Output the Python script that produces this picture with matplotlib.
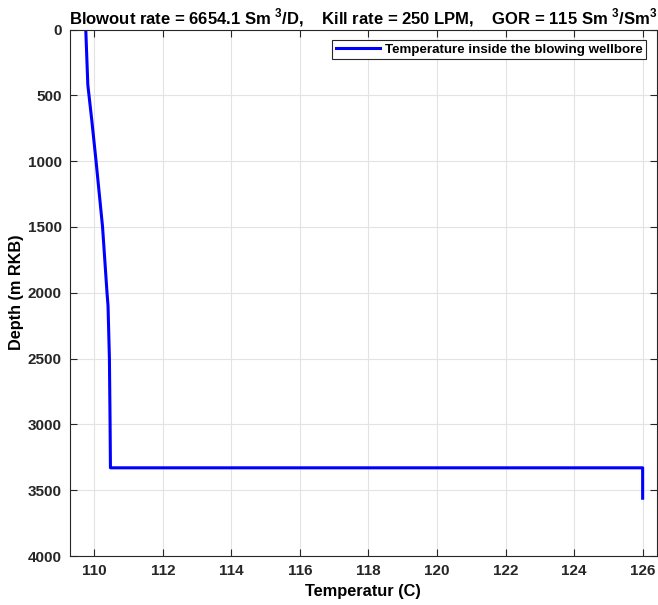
import matplotlib
matplotlib.use("Agg")
import matplotlib.pyplot as plt

plt.rcParams['font.family'] = ['Liberation Sans', 'DejaVu Sans']
plt.rcParams['mathtext.fontset'] = 'custom'
plt.rcParams['mathtext.rm'] = 'Liberation Sans:bold'
plt.rcParams['mathtext.bf'] = 'Liberation Sans:bold'

# Temperature profile inside the blowing wellbore
depth = [0, 420, 700, 1000, 1500, 2000, 2100, 2500, 3000, 3330, 3330, 3561]
temperature = [109.75, 109.81, 109.93, 110.05, 110.24, 110.37, 110.40,
               110.44, 110.46, 110.47, 126.0, 126.0]

x_ticks = [110, 112, 114, 116, 118, 120, 122, 124, 126]
y_ticks = [0, 500, 1000, 1500, 2000, 2500, 3000, 3500, 4000]

fig = plt.figure(figsize=(6.58, 6.05), dpi=100)
ax = fig.add_axes([70 / 658, 49 / 605, 586.7 / 658, 526.5 / 605])

ax.plot(temperature, depth, color='#0000ff', lw=2.2,
        label='Temperature inside the blowing wellbore')

ax.set_xlim(109.29, 126.41)
ax.set_ylim(4000, 0)
ax.set_xticks(x_ticks)
ax.set_yticks(y_ticks)
ax.grid(True, color='#e3e3e3', lw=0.8)
ax.set_axisbelow(True)
ax.tick_params(direction='in', length=5, width=0.8, top=True, right=True,
               labelsize=11, colors='#262626', pad=6)
for lab in ax.get_xticklabels() + ax.get_yticklabels():
    lab.set_fontweight('bold')
for sp in ax.spines.values():
    sp.set_color('#262626')
    sp.set_linewidth(0.8)

ax.set_xlabel('Temperatur (C)', fontsize=11.8, fontweight='bold', labelpad=4)
ax.set_ylabel('Depth (m RKB)', fontsize=11.7, fontweight='bold', labelpad=3)
ax.set_title(r'Blowout rate = 6654.1 Sm $^{3}$/D,    Kill rate = 250 LPM,    '
             r'GOR = 115 Sm $^{3}$/Sm$^{3}$',
             fontsize=12, fontweight='bold', pad=4)

leg = ax.legend(loc='upper right', prop={'weight': 'bold', 'size': 9.6},
                fancybox=False, framealpha=1, edgecolor='#262626',
                borderpad=0.25, handlelength=3.3, handletextpad=0.4,
                borderaxespad=0.8)
leg.get_frame().set_linewidth(0.8)

fig.savefig('out.png', dpi=100)
